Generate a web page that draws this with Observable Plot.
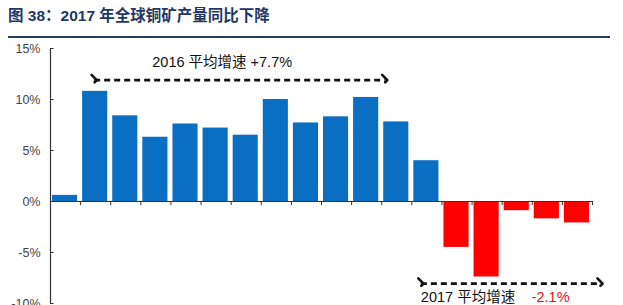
<!DOCTYPE html>
<html><head><meta charset="utf-8">
<script src="https://cdn.jsdelivr.net/npm/d3@7"></script>
<script src="https://cdn.jsdelivr.net/npm/@observablehq/plot@0.6"></script>
<style>
body{margin:0;width:623px;height:305px;overflow:hidden;background:#fff;position:relative;font-family:"Liberation Sans",Arial,sans-serif}
#title{position:absolute;left:8px;top:6px;font:bold 15.5px "Liberation Sans","Noto Sans CJK SC",sans-serif;color:#1F3864;white-space:nowrap;line-height:20px}
#rule{position:absolute;left:8px;top:36px;width:602px;height:2px;background:#1F3864}
#chart{position:absolute;left:0;top:40px}
</style></head><body>
<div id="title">图 38：2017 年全球铜矿产量同比下降</div>
<div id="rule"></div>
<div id="chart"></div>
<script>
// Monthly year-over-year growth of global copper mine production (%)
const months = ["2015-12","2016-01","2016-02","2016-03","2016-04","2016-05","2016-06","2016-07","2016-08","2016-09","2016-10","2016-11","2016-12","2017-01","2017-02","2017-03","2017-04","2017-05"];
const growth = [0.6, 10.8, 8.4, 6.3, 7.6, 7.2, 6.5, 10.0, 7.7, 8.3, 10.2, 7.8, 4.0, -4.5, -7.4, -0.9, -1.7, -2.1];
const group  = ["2016","2016","2016","2016","2016","2016","2016","2016","2016","2016","2016","2016","2016","2017","2017","2017","2017","2017"];
const yTicks = [-10, -5, 0, 5, 10, 15];
const yTickLabels = ["-10%", "-5%", "0%", "5%", "10%", "15%"];

// annotations (in data units: x = bar slot index, y = %)
const arrowSpans = [
  {x1: 1.45, x2: 11.1, y: 11.9},
  {x1: 12.3, x2: 18.25, y: -8.05}
];
const noteTexts = [
  {x: 3.38, y: 13.6, text: "2016 平均增速 +7.7%", color: "#111"},
  {x: 12.3, y: -9.4, text: "2017 平均增速", color: "#111"},
  {x: 15.98, y: -9.4, text: "-2.1%", color: "#E8101A"}
];

const data = months.map((m, i) => ({m, i, i2: i + 1, v: growth[i], g: group[i]}));
const slotEdges = d3.range(0, months.length + 1);

const chart = Plot.plot({
  width: 623, height: 270,
  marginLeft: 50, marginRight: 31, marginTop: 8, marginBottom: 7,
  x: {domain: [0, months.length], axis: null},
  y: {domain: [-10, 15], axis: null},
  color: {domain: ["2016", "2017"], range: ["#0A6FC2", "#FF0000"]},
  style: {fontFamily: "'Liberation Sans', Arial, sans-serif", background: "transparent", overflow: "visible"},
  marks: [
    Plot.rect(data, {x1: "i", x2: "i2", y1: 0, y2: "v", fill: "g", insetLeft: 2, insetRight: 3}),
    Plot.ruleY([0], {stroke: "#333", strokeWidth: 1.2}),
    Plot.ruleX([0], {y1: -10, y2: 15, stroke: "#333", strokeWidth: 1.2}),
    Plot.ruleY(yTicks, {x1: 0, x2: 0.12, stroke: "#333"}),
    Plot.ruleX(slotEdges, {y1: 0, y2: -0.4, stroke: "#333"}),
    Plot.text(yTicks, {x: 0, y: d => d, text: (d, i) => yTickLabels[i], textAnchor: "end", dx: -10, fill: "#444", fontSize: 12.5}),
    Plot.link(arrowSpans, {x1: "x1", x2: "x2", y1: "y", y2: "y", stroke: "#111", strokeWidth: 2.6, strokeDasharray: "6,4", markerStart: "arrow", markerEnd: "arrow"}),
    Plot.text(noteTexts, {x: "x", y: "y", text: "text", fill: d => d.color, textAnchor: "start", fontSize: 14.5, letterSpacing: "0.4px", fontFamily: "'Liberation Sans','Noto Sans CJK SC',sans-serif"})
  ]
});
document.getElementById("chart").appendChild(chart);
</script>
</body></html>
